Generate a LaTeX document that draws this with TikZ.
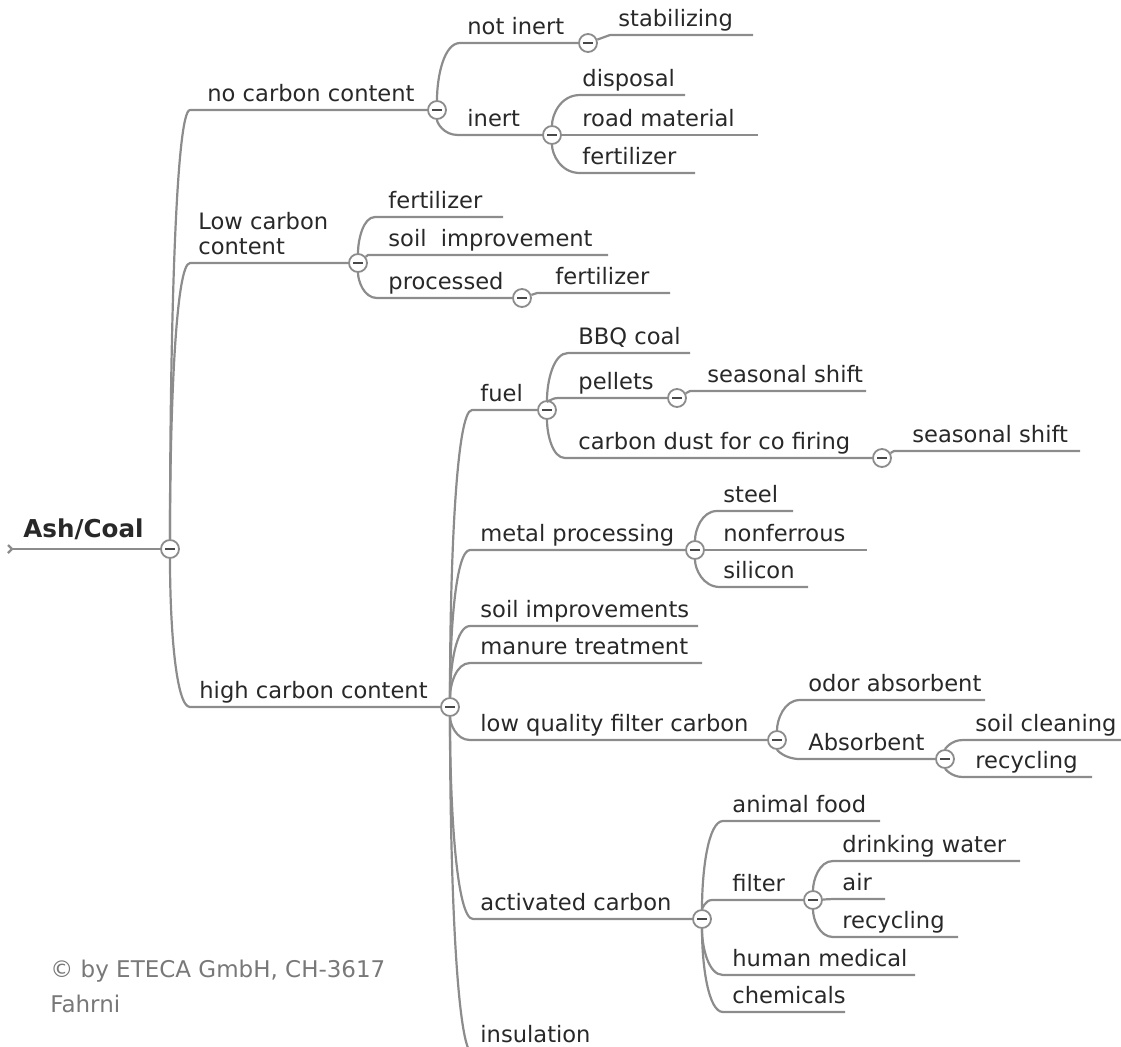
\documentclass[tikz,border=0pt]{standalone}
\usepackage{fontspec}
\setmainfont{DejaVu Sans}
\usetikzlibrary{calc}

\definecolor{linegray}{RGB}{140,140,140}
\definecolor{textgray}{RGB}{40,40,40}
\definecolor{notegray}{RGB}{120,120,120}
\newcommand{\topicfont}{\fontsize{11.3}{12.5}\selectfont}

\tikzset{
  conn/.style={draw=linegray, line width=1.1pt},
  branch/.style={to path={.. controls ($(\tikztostart)!0.5!(\tikztostart |- \tikztotarget)$)
      and ($(\tikztostart |- \tikztotarget)!0.3!(\tikztotarget)$) .. (\tikztotarget)}},
  topic/.style={anchor=base west, inner sep=0pt, text=textgray, font=\topicfont},
  knob/.style={circle, draw=linegray, fill=white, line width=0.9pt, minimum size=9pt, inner sep=0pt,
    path picture={\draw[textgray!85, line width=1.2pt] ([xshift=-2.3pt]path picture bounding box.center) -- ([xshift=2.3pt]path picture bounding box.center);}},
}

\begin{document}
\begin{tikzpicture}[x=0.5pt,y=-0.5pt]
\useasboundingbox (0,0) rectangle (1121,1046);

% root
\node[topic, font=\bfseries\fontsize{12.3}{14}\selectfont] (root) at (23,537) {Ash/Coal};
\node[knob] (k-root) at (170,549) {};
\coordinate (root-s) at (12,549);
\draw[conn, line width=1.4pt] (root-s) -- (k-root);
\draw[conn] ([shift={(-4,-4)}]root-s) -- (root-s) -- ([shift={(-4,4)}]root-s);

% no carbon content
\coordinate (nocarb-s) at (190,110);
\node[topic] (nocarb) at (207,101) {no carbon content};
\node[knob] (k-nocarb) at (437,110) {};
\draw[conn] (k-root) to[branch] (nocarb-s) -- (k-nocarb);

\coordinate (notinert-s) at (460,43);
\node[topic] (notinert) at (467,34) {not inert};
\node[knob] (k-notinert) at (588,43) {};
\draw[conn] (k-nocarb) to[branch] (notinert-s) -- (k-notinert);
\coordinate (stabil-s) at (610,35); \coordinate (stabil-e) at (753,35);
\node[topic] (stabil) at (618,26) {stabilizing};
\draw[conn] (k-notinert) -- (stabil-s) -- (stabil-e);

\coordinate (inert-s) at (458,135);
\node[topic] (inert) at (467,126) {inert};
\node[knob] (k-inert) at (552,135) {};
\draw[conn] (k-nocarb) to[branch] (inert-s) -- (k-inert);
\coordinate (disposal-s) at (580,95); \coordinate (disposal-e) at (685,95);
\node[topic] (disposal) at (582,86) {disposal};
\draw[conn] (k-inert) to[branch] (disposal-s) -- (disposal-e);
\coordinate (road-s) at (560,135); \coordinate (road-e) at (758,135);
\node[topic] (road) at (582,126) {road material};
\draw[conn] (k-inert) -- (road-s) -- (road-e);
\coordinate (fert-a-s) at (580,173); \coordinate (fert-a-e) at (695,173);
\node[topic] (fert-a) at (582,164) {fertilizer};
\draw[conn] (k-inert) to[branch] (fert-a-s) -- (fert-a-e);

% low carbon content
\coordinate (lowcarb-s) at (190,263);
\node[topic] (lowcarb) at (198,229) {Low carbon};
\node[topic] (lowcarb-b) at (198,254) {content};
\node[knob] (k-lowcarb) at (358,263) {};
\draw[conn] (k-root) to[branch] (lowcarb-s) -- (k-lowcarb);
\coordinate (fert-b-s) at (375,217); \coordinate (fert-b-e) at (503,217);
\node[topic] (fert-b) at (388,208) {fertilizer};
\draw[conn] (k-lowcarb) to[branch] (fert-b-s) -- (fert-b-e);
\coordinate (soilimp-s) at (368,255); \coordinate (soilimp-e) at (608,255);
\node[topic] (soilimp) at (388,246) {soil\ \ improvement};
\draw[conn] (k-lowcarb) -- (soilimp-s) -- (soilimp-e);
\coordinate (processed-s) at (377,298);
\node[topic] (processed) at (388,289) {processed};
\node[knob] (k-processed) at (522,298) {};
\draw[conn] (k-lowcarb) to[branch] (processed-s) -- (k-processed);
\coordinate (fert-c-s) at (537,293); \coordinate (fert-c-e) at (670,293);
\node[topic] (fert-c) at (555,284) {fertilizer};
\draw[conn] (k-processed) -- (fert-c-s) -- (fert-c-e);

% high carbon content
\coordinate (highcarb-s) at (190,707);
\node[topic] (highcarb) at (199,698) {high carbon content};
\node[knob] (k-highcarb) at (450,707) {};
\draw[conn] (k-root) to[branch] (highcarb-s) -- (k-highcarb);

\coordinate (fuel-s) at (472,410);
\node[topic] (fuel) at (480,401) {fuel};
\node[knob] (k-fuel) at (547,410) {};
\draw[conn] (k-highcarb) to[branch] (fuel-s) -- (k-fuel);
\coordinate (bbq-s) at (568,353); \coordinate (bbq-e) at (690,353);
\node[topic] (bbq) at (578,344) {BBQ coal};
\draw[conn] (k-fuel) to[branch] (bbq-s) -- (bbq-e);
\coordinate (pellets-s) at (558,398);
\node[topic] (pellets) at (578,389) {pellets};
\node[knob] (k-pellets) at (677,398) {};
\draw[conn] (k-fuel) to[branch] (pellets-s) -- (k-pellets);
\coordinate (season-a-s) at (690,391); \coordinate (season-a-e) at (866,391);
\node[topic] (season-a) at (707,382) {seasonal shift};
\draw[conn] (k-pellets) -- (season-a-s) -- (season-a-e);
\coordinate (cdust-s) at (565,458);
\node[topic] (cdust) at (578,449) {carbon dust for co firing};
\node[knob] (k-cdust) at (882,458) {};
\draw[conn] (k-fuel) to[branch] (cdust-s) -- (k-cdust);
\coordinate (season-b-s) at (894,451); \coordinate (season-b-e) at (1080,451);
\node[topic] (season-b) at (912,442) {seasonal shift};
\draw[conn] (k-cdust) -- (season-b-s) -- (season-b-e);

\coordinate (metal-s) at (470,550);
\node[topic] (metal) at (480,541) {metal processing};
\node[knob] (k-metal) at (695,550) {};
\draw[conn] (k-highcarb) to[branch] (metal-s) -- (k-metal);
\coordinate (steel-s) at (717,511); \coordinate (steel-e) at (793,511);
\node[topic] (steel) at (723,502) {steel};
\draw[conn] (k-metal) to[branch] (steel-s) -- (steel-e);
\coordinate (nonferr-s) at (707,550); \coordinate (nonferr-e) at (867,550);
\node[topic] (nonferr) at (723,541) {nonferrous};
\draw[conn] (k-metal) -- (nonferr-s) -- (nonferr-e);
\coordinate (silicon-s) at (720,587); \coordinate (silicon-e) at (808,587);
\node[topic] (silicon) at (723,578) {silicon};
\draw[conn] (k-metal) to[branch] (silicon-s) -- (silicon-e);

\coordinate (soilimps-s) at (470,626); \coordinate (soilimps-e) at (698,626);
\node[topic] (soilimps) at (480,617) {soil improvements};
\draw[conn] (k-highcarb) to[branch] (soilimps-s) -- (soilimps-e);
\coordinate (manure-s) at (470,663); \coordinate (manure-e) at (702,663);
\node[topic] (manure) at (480,654) {manure treatment};
\draw[conn] (k-highcarb) to[branch] (manure-s) -- (manure-e);

\coordinate (lqfilter-s) at (470,740);
\node[topic] (lqfilter) at (480,731) {low quality filter carbon};
\node[knob] (k-lqfilter) at (777,740) {};
\draw[conn] (k-highcarb) to[branch] (lqfilter-s) -- (k-lqfilter);
\coordinate (odor-s) at (800,700); \coordinate (odor-e) at (985,700);
\node[topic] (odor) at (808,691) {odor absorbent};
\draw[conn] (k-lqfilter) to[branch] (odor-s) -- (odor-e);
\coordinate (absorb-s) at (800,759);
\node[topic] (absorb) at (808,750) {Absorbent};
\node[knob] (k-absorb) at (945,759) {};
\draw[conn] (k-lqfilter) to[branch] (absorb-s) -- (k-absorb);
\coordinate (soilclean-s) at (963,740); \coordinate (soilclean-e) at (1121,740);
\node[topic] (soilclean) at (975,731) {soil cleaning};
\draw[conn] (k-absorb) to[branch] (soilclean-s) -- (soilclean-e);
\coordinate (recyc-a-s) at (963,777); \coordinate (recyc-a-e) at (1092,777);
\node[topic] (recyc-a) at (975,768) {recycling};
\draw[conn] (k-absorb) to[branch] (recyc-a-s) -- (recyc-a-e);

\coordinate (activ-s) at (473,919);
\node[topic] (activ) at (480,910) {activated carbon};
\node[knob] (k-activ) at (702,919) {};
\draw[conn] (k-highcarb) to[branch] (activ-s) -- (k-activ);
\coordinate (animal-s) at (723,821); \coordinate (animal-e) at (880,821);
\node[topic] (animal) at (732,812) {animal food};
\draw[conn] (k-activ) to[branch] (animal-s) -- (animal-e);
\coordinate (filter-s) at (712,900);
\node[topic] (filter) at (732,891) {filter};
\node[knob] (k-filter) at (813,900) {};
\draw[conn] (k-activ) to[branch] (filter-s) -- (k-filter);
\coordinate (drinking-s) at (833,861); \coordinate (drinking-e) at (1020,861);
\node[topic] (drinking) at (842,852) {drinking water};
\draw[conn] (k-filter) to[branch] (drinking-s) -- (drinking-e);
\coordinate (air-s) at (833,899); \coordinate (air-e) at (885,899);
\node[topic] (air) at (842,890) {air};
\draw[conn] (k-filter) -- (air-s) -- (air-e);
\coordinate (recyc-b-s) at (833,937); \coordinate (recyc-b-e) at (958,937);
\node[topic] (recyc-b) at (842,928) {recycling};
\draw[conn] (k-filter) to[branch] (recyc-b-s) -- (recyc-b-e);
\coordinate (medical-s) at (723,975); \coordinate (medical-e) at (915,975);
\node[topic] (medical) at (732,966) {human medical};
\draw[conn] (k-activ) to[branch] (medical-s) -- (medical-e);
\coordinate (chemicals-s) at (723,1012); \coordinate (chemicals-e) at (845,1012);
\node[topic] (chemicals) at (732,1003) {chemicals};
\draw[conn] (k-activ) to[branch] (chemicals-s) -- (chemicals-e);

\coordinate (insulation-s) at (473,1054); \coordinate (insulation-e) at (600,1054);
\node[topic] (insulation) at (480,1042) {insulation};
\draw[conn] (k-highcarb) to[branch] (insulation-s) -- (insulation-e);

% note
\node[topic, text=notegray, font=\fontsize{11.5}{17.5}\selectfont] (copyright) at (50,977) {© by ETECA GmbH, CH-3617};
\node[topic, text=notegray, font=\fontsize{11.5}{17.5}\selectfont] (copyright-b) at (50,1012) {Fahrni};
\end{tikzpicture}
\end{document}
